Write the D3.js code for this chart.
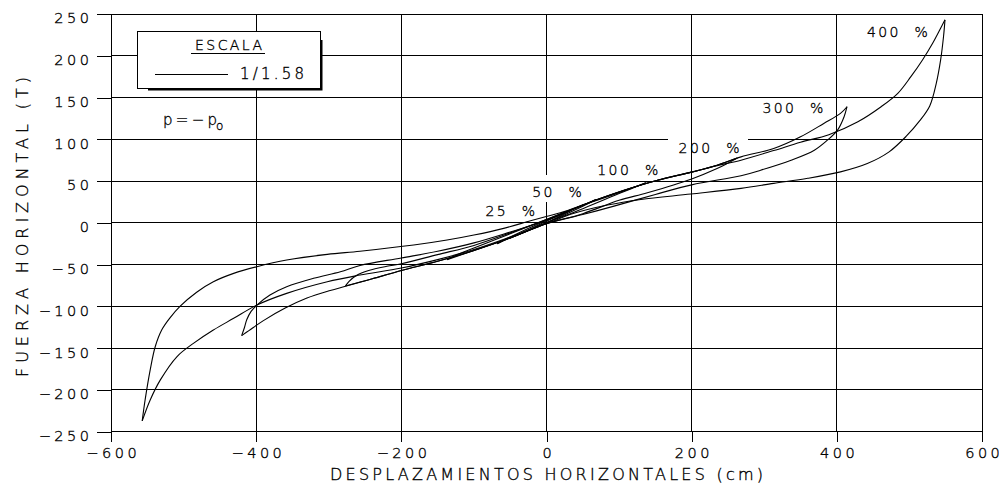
<!DOCTYPE html>
<html>
<head>
<meta charset="utf-8">
<script src="https://cdn.jsdelivr.net/npm/d3@7"></script>
<style>
  body { margin: 0; background: #fff; }
  svg { display: block; font-family: "DejaVu Sans", sans-serif; font-weight: 200; }
  svg text { fill: #000; stroke: #000; stroke-width: 0.35px; }
  .grid line { stroke: #000; stroke-width: 1; shape-rendering: crispEdges; }
  .axis line { stroke: #000; stroke-width: 1; shape-rendering: crispEdges; }
  .axis text { font-size: 14.5px; letter-spacing: 3.5px; }
  .curve { fill: none; stroke: #000; stroke-width: 1.1; }
  .lbl { font-size: 14px; letter-spacing: 2.4px; }
  .title { font-size: 16px; }
</style>
</head>
<body>
<div id="chart"></div>
<script>

// ticks
var xTicks = [-600, -400, -200, 0, 200, 400, 600];
var yTicks = [-250, -200, -150, -100, -50, 0, 50, 100, 150, 200, 250];

// hysteresis loops, [displacement cm, force T]; "Up" = moving right, "Down" = moving left
var loop400Up = [[-557,-237],[-553,-212],[-546,-176],[-539,-148],[-530,-128],[-519,-114],[-505,-100],[-482,-83],[-459,-70.5],[-431,-60.5],[-399,-52.5],[-358,-44.5],[-302,-37.7],[-257,-34],[-183,-26.6],[-137,-20.6],[-100,-14.6],[-59,-6.6],[-22,2.5],[1,8],[19,12],[61,25],[107,39],[153,51],[201,61],[235,68.5],[268,75],[313,86.5],[350,96.5],[389,105.5],[429,121],[461,139],[484,155],[502,175],[518,195],[532,215],[543,233],[549,243]];
var loop400Down = [[549,243],[547,223],[543,195],[537,167],[528,140],[514,122],[496,104],[472,85],[442,71],[405,61],[360,53.3],[313,47.3],[268,41.3],[199,34.5],[130,28],[84,21.3],[38,11.4],[1,-0.6],[-50,-17],[-100,-32],[-150,-44],[-200,-54],[-257,-62.5],[-302,-70.5],[-358,-84.4],[-399,-98.4],[-431,-114.3],[-459,-128.3],[-486,-144],[-509,-160],[-532,-188],[-546,-212],[-557,-237]];

var loop300Up = [[-420,-135],[-416,-125],[-413,-116],[-407,-106],[-399,-98.4],[-381,-86.4],[-358,-76.5],[-321,-66.4],[-284,-58.5],[-257,-51],[-200,-42],[-150,-34],[-100,-24],[-50,-11],[0,3],[61,25],[107,39],[153,51],[201,61],[235,69],[268,79],[313,89],[350,103],[382,119],[405,131],[414,139]];
var loop300Down = [[414,139],[410,127],[401,111],[387,99],[369,87],[337,75],[295,63],[268,56.4],[200,45.5],[150,34],[93,20],[50,10],[0,-1],[-50,-18],[-100,-33],[-150,-46],[-200,-57],[-240,-67],[-277,-76],[-298,-81],[-330,-90],[-360,-102],[-390,-117],[-410,-129],[-420,-135]];

var loop200Up = [[-277,-75.5],[-272,-70],[-262,-63],[-245,-57],[-220,-52],[-200,-49],[-150,-38],[-100,-27],[-50,-12],[0,4],[61,25],[107,39],[153,51],[201,61],[235,69],[263,77.5]];
var loop200Down = [[263,77.5],[250,71.5],[235,65],[200,52.5],[139,36],[100,27],[50,11],[0,-1],[-50,-18],[-100,-33],[-150,-46],[-200,-57],[-240,-67],[-277,-75.5]];

var loop100Up = [[-137,-44],[-120,-37],[-100,-30],[-50,-13],[0,4],[50,21],[100,36],[137,48]];
var loop100Down = [[137,48],[120,42],[100,35],[50,17],[0,0],[-50,-18],[-100,-33],[-137,-44]];

var loop50Up = [[-68,-25],[-50,-17],[0,3],[50,21],[68,28]];
var loop50Down = [[68,28],[50,20],[0,0],[-50,-18],[-68,-25]];

var loop25Up = [[-34,-12],[0,2],[34,15]];
var loop25Down = [[34,15],[0,0],[-34,-12]];

// curve labels: text, start x (cm), baseline (T)
var labelText = ["25 %", "50 %", "100 %", "200 %", "300 %", "400 %"];
var labelX = [-84, -19.7, 70, 182, 297.5, 441.4];
var labelY = [8.5, 31.4, 57.2, 84, 131, 222.8];

/************************************************************************************************************/

var W = 999, H = 488;

var svg = d3.select("#chart").append("svg").attr("width", W).attr("height", H);

var x = d3.scaleLinear().domain([-600, 600]).range([111, 982]);
var y = d3.scaleLinear().domain([-250, 250]).range([431.7, 14]);

function fmt(d){
  return d < 0 ? "\u2212" + (-d) : "" + d;
}

// grid lines trimmed where the labels sit (CAD style)
var gaps = [
  {dir: "h", at: 100, from: 167, to: 277},
  {dir: "v", at: 0, from: 24.7, to: 57.3}
];

function pieces(dir, at, lo, hi){
  var segs = [[lo, hi]];
  gaps.forEach(function(g){
    if(g.dir === dir && g.at === at){
      segs = [[lo, g.from], [g.to, hi]];
    }
  });
  return segs;
}

var grid = svg.append("g").classed("grid", true);

yTicks.forEach(function(t){
  pieces("h", t, -600, 600).forEach(function(s){
    grid.append("line").attr("x1", x(s[0])).attr("x2", x(s[1])).attr("y1", y(t)).attr("y2", y(t));
  });
});

xTicks.forEach(function(t){
  pieces("v", t, -250, 250).forEach(function(s){
    grid.append("line").attr("x1", x(t)).attr("x2", x(t)).attr("y1", y(s[0])).attr("y2", y(s[1]));
  });
});

// axes
var yAxis = svg.append("g").classed("axis", true).attr("transform", "translate(" + x(-600) + ",0)")
  .call(d3.axisLeft(y).tickValues(yTicks).tickSize(14).tickPadding(4.5).tickFormat(fmt));
yAxis.attr("font-size", null).attr("font-family", null);
yAxis.select(".domain").remove();
yAxis.selectAll("text").attr("dy", "0.61em");

var xAxis = svg.append("g").classed("axis", true).attr("transform", "translate(0," + y(-250) + ")")
  .call(d3.axisBottom(x).tickValues(xTicks).tickSize(10).tickPadding(6).tickFormat(fmt));
xAxis.attr("font-size", null).attr("font-family", null);
xAxis.select(".domain").remove();
xAxis.selectAll("text").attr("x", 1.75);

// axis titles
svg.append("text").classed("title", true)
  .attr("x", 546.5).attr("y", 480).attr("text-anchor", "middle")
  .attr("textLength", 433).attr("lengthAdjust", "spacing")
  .text("DESPLAZAMIENTOS  HORIZONTALES  (cm)");

svg.append("text").classed("title", true)
  .attr("transform", "translate(28,227) rotate(-90)").attr("text-anchor", "middle")
  .attr("textLength", 300).attr("lengthAdjust", "spacing")
  .text("FUERZA  HORIZONTAL  (T)");

// legend box with shadow
var legend = svg.append("g");
legend.append("rect").attr("x", 148).attr("y", 40).attr("width", 174.5).attr("height", 50.5).attr("fill", "#000");
legend.append("rect").attr("x", 137).attr("y", 31).attr("width", 183).attr("height", 57)
  .attr("fill", "#fff").attr("stroke", "#000").attr("stroke-width", 1).style("shape-rendering", "crispEdges");

legend.append("text").attr("x", 195).attr("y", 50).attr("font-size", 14)
  .attr("textLength", 67).attr("lengthAdjust", "spacing").text("ESCALA");
legend.append("line").attr("x1", 191).attr("x2", 265).attr("y1", 53).attr("y2", 53)
  .attr("stroke", "#000").style("shape-rendering", "crispEdges");
legend.append("line").attr("x1", 155).attr("x2", 228).attr("y1", 74).attr("y2", 74)
  .attr("stroke", "#000").style("shape-rendering", "crispEdges");
legend.append("text").attr("x", 240).attr("y", 79).attr("font-size", 15)
  .attr("textLength", 64).attr("lengthAdjust", "spacing").text("1/1.58");

svg.append("text").attr("x", 163).attr("y", 125).attr("font-size", 15)
  .attr("textLength", 54).attr("lengthAdjust", "spacing").text("p=\u2212p");
svg.append("text").attr("x", 216).attr("y", 130).attr("font-size", 12).text("o");

// loops
var line = d3.line()
  .x(function(d){ return x(d[0]); })
  .y(function(d){ return y(d[1]); })
  .curve(d3.curveCatmullRom.alpha(0.5));

var branches = [loop400Up, loop400Down, loop300Up, loop300Down, loop200Up, loop200Down,
  loop100Up, loop100Down, loop50Up, loop50Down, loop25Up, loop25Down];

var chart = svg.append("g");
branches.forEach(function(b){
  chart.append("path").classed("curve", true).attr("d", line(b));
});

// curve labels
labelText.forEach(function(t, i){
  svg.append("text").classed("lbl", true)
    .attr("x", x(labelX[i])).attr("y", y(labelY[i]))
    .text(t.replace(" ", "\u00A0\u00A0"));
});

</script>
</body>
</html>
